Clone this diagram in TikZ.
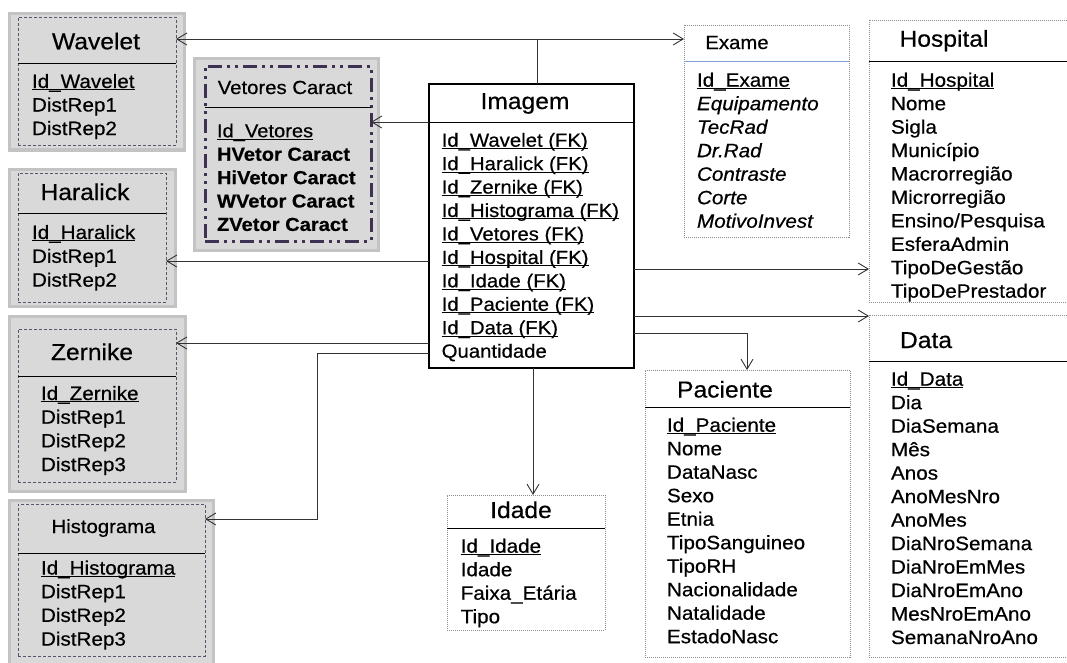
\documentclass[tikz,border=0pt]{standalone}
\usepackage{fontspec}
\setmainfont{Liberation Sans}[FakeStretch=1.07,FakeBold=0.5]
\newcommand\undl[1]{\setbox0\hbox{#1}\rlap{\rule[-2.3pt]{\wd0}{0.9pt}}\box0}
\usetikzlibrary{arrows.meta}
\definecolor{boxgray}{HTML}{D9D9D9}
\definecolor{rimgray}{HTML}{C3C3C3}
\definecolor{dashgray}{HTML}{55556A}
\definecolor{vetpurple}{HTML}{3F3151}
\definecolor{dotgray}{HTML}{8C8C8C}
\definecolor{linegray}{HTML}{333333}
\definecolor{sepblue}{HTML}{7F9FCF}
\newcommand\mkbox[6]{%
  \pgfmathsetmacro\mkbw{#5-#3}\pgfmathsetmacro\mkbh{#6-#4}%
  \node[#1, minimum width=\mkbw pt, minimum height=\mkbh pt] (#2) at (#3,#4) {};}
\newcommand\attrs[6]{%
  \foreach \t [count=\i] in {#6}
    \node[attr, #2] (#1\i) at (#3, {#4+(\i-1)*#5}) {\t};}
\tikzset{
  every node/.style={inner sep=0pt, outer sep=0pt},
  graybox/.style={draw=rimgray, line width=3.5pt, fill=boxgray, rectangle, anchor=north west},
  dashbox/.style={draw=dashgray, line width=0.8pt, dash pattern=on 3pt off 2pt, rectangle, anchor=north west},
  vetbox/.style={draw=vetpurple, line width=3pt, dash pattern=on 14pt off 5pt on 3pt off 5pt on 3pt off 5pt, rectangle, anchor=north west},
  dotbox/.style={draw=dotgray, line width=0.8pt, dash pattern=on 1pt off 1pt, fill=white, rectangle, anchor=north west},
  solidbox/.style={draw=black, line width=1.2pt, fill=white, rectangle, anchor=north west},
  ttl/.style={anchor=base, font=\fontsize{23}{27}\selectfont},
  ttls/.style={anchor=base, font=\fontsize{19}{23}\selectfont},
  attr/.style={anchor=base west, font=\fontsize{19.3}{23}\selectfont},
  sepline/.style={draw=black, line width=1pt},
  conn/.style={draw=linegray, line width=0.9pt},
  arr/.style={conn, -{Straight Barb[length=10pt,width=12pt]}},
}
\begin{document}
\begin{tikzpicture}[x=1pt,y=-1pt]
\useasboundingbox (0,0) rectangle (1067,662);
% left gray boxes
\mkbox{graybox}{wavO}{9.5}{13.5}{184.5}{150}
\mkbox{dashbox}{wav}{18}{17}{176}{145}
\draw[sepline] (wav.west |- 0,63) -- (wav.east |- 0,63);
\mkbox{graybox}{harO}{9.5}{169.5}{175.5}{306.5}
\mkbox{dashbox}{har}{18}{173}{166}{302}
\draw[sepline] (har.west |- 0,213) -- (har.east |- 0,213);
\mkbox{graybox}{zerO}{9.5}{316.5}{185.5}{491.5}
\mkbox{dashbox}{zer}{18}{329}{176}{482}
\draw[sepline] (zer.west |- 0,376) -- (zer.east |- 0,376);
\mkbox{graybox}{hisO}{9.5}{500.5}{213.5}{672}
\mkbox{dashbox}{his}{18}{504}{205}{656}
\draw[sepline] (his.west |- 0,553) -- (his.east |- 0,553);
\mkbox{graybox}{vetO}{194.5}{58.5}{378.5}{250.5}
\mkbox{vetbox}{vet}{205}{66}{371}{241}
\draw[sepline] (vet.west |- 0,107) -- (vet.east |- 0,107);
% white boxes
\mkbox{solidbox}{img}{429}{84}{634}{368}
\draw[sepline] (img.west |- 0,122) -- (img.east |- 0,122);
\mkbox{dotbox}{exa}{684}{25}{849}{237}
\draw[draw=sepblue, line width=1pt] (exa.west |- 0,61) -- (exa.east |- 0,61);
\mkbox{dotbox}{hos}{869}{20}{1075}{302}
\draw[sepline] (hos.west |- 0,61) -- (hos.east |- 0,61);
\mkbox{dotbox}{dat}{869}{315}{1075}{657}
\draw[sepline] (dat.west |- 0,361) -- (dat.east |- 0,361);
\mkbox{dotbox}{pac}{645}{370}{850}{657}
\draw[sepline] (pac.west |- 0,407) -- (pac.east |- 0,407);
\mkbox{dotbox}{ida}{447}{495}{605}{630}
\draw[sepline] (ida.west |- 0,528) -- (ida.east |- 0,528);
% titles
\node[ttl] (wavT) at (96,49.3) {Wavelet};
\node[ttl] (harT) at (85,200) {Haralick};
\node[ttl] (zerT) at (92,360) {Zernike};
\node[ttls] (hisT) at (103.5,533) {Histograma};
\node[ttls] (vetT) at (285,94) {Vetores Caract};
\node[ttl] (imgT) at (525,109) {Imagem};
\node[ttls] (exaT) at (737,49) {Exame};
\node[ttl] (hosT) at (944,46.7) {Hospital};
\node[ttl] (datT) at (926,348) {Data};
\node[ttl] (pacT) at (725,397.5) {Paciente};
\node[ttl] (idaT) at (521,518) {Idade};
% attributes
\attrs{wa}{}{32}{88}{23.5}{\undl{Id\_Wavelet},DistRep1,DistRep2}
\attrs{ha}{}{32}{239}{23.8}{\undl{Id\_Haralick},DistRep1,DistRep2}
\attrs{za}{}{41}{400}{23.7}{\undl{Id\_Zernike},DistRep1,DistRep2,DistRep3}
\attrs{hia}{}{41}{574.5}{23.7}{\undl{Id\_Histograma},DistRep1,DistRep2,DistRep3}
\attrs{va}{font=\fontsize{18.8}{22}\selectfont}{217}{137.3}{23.4}{\undl{Id\_Vetores},\textbf{HVetor Caract},\textbf{HiVetor Caract},\textbf{WVetor Caract},\textbf{ZVetor Caract}}
\attrs{ia}{font=\fontsize{19}{22}\selectfont}{441.7}{146.7}{23.44}{\undl{Id\_Wavelet (FK)},\undl{Id\_Haralick (FK)},\undl{Id\_Zernike (FK)},\undl{Id\_Histograma (FK)},\undl{Id\_Vetores (FK)},\undl{Id\_Hospital (FK)},\undl{Id\_Idade (FK)},\undl{Id\_Paciente (FK)},\undl{Id\_Data (FK)},Quantidade}
\attrs{ea}{}{697}{86.7}{23.5}{\undl{Id\_Exame},\textit{Equipamento},\textit{TecRad},\textit{Dr.Rad},\textit{Contraste},\textit{Corte},\textit{MotivoInvest}}
\attrs{hoa}{}{891}{86.7}{23.44}{\undl{Id\_Hospital},Nome,Sigla,Município,Macrorregião,Microrregião,Ensino/Pesquisa,EsferaAdmin,TipoDeGestão,TipoDePrestador}
\attrs{da}{}{891}{385.7}{23.48}{\undl{Id\_Data},Dia,DiaSemana,Mês,Anos,AnoMesNro,AnoMes,DiaNroSemana,DiaNroEmMes,DiaNroEmAno,MesNroEmAno,SemanaNroAno}
\attrs{pa}{}{667}{431.7}{23.5}{\undl{Id\_Paciente},Nome,DataNasc,Sexo,Etnia,TipoSanguineo,TipoRH,Nacionalidade,Natalidade,EstadoNasc}
\attrs{ida}{}{460.7}{552.7}{23.5}{\undl{Id\_Idade},Idade,Faixa\_Etária,Tipo}
% connectors
\coordinate (j1) at (537,39);
\draw[conn] (img.north -| j1) -- (j1);
\draw[arr] (j1) -- (j1 -| wav.east);
\draw[arr] (j1) -- (j1 -| exa.west);
\draw[arr] (img.west |- 0,122) -- (vet.east |- 0,122);
\draw[arr] (img.west |- 0,261) -- (har.east |- 0,261);
\draw[arr] (img.west |- 0,343) -- (zer.east |- 0,343);
\coordinate (hb) at (317,519);
\draw[arr] (img.west |- 0,353) -| (hb) -- (his.east |- hb);
\draw[arr] (img.east |- 0,269) -- (hos.west |- 0,269);
\draw[arr] (img.east |- 0,316) -- (dat.west |- 0,316);
\coordinate (pj) at (747,333);
\draw[arr] (img.east |- pj) -- (pj) -- (pj |- pac.north);
\coordinate (ij) at (533,368);
\draw[arr] (ij) -- (ij |- ida.north);
\end{tikzpicture}
\end{document}
